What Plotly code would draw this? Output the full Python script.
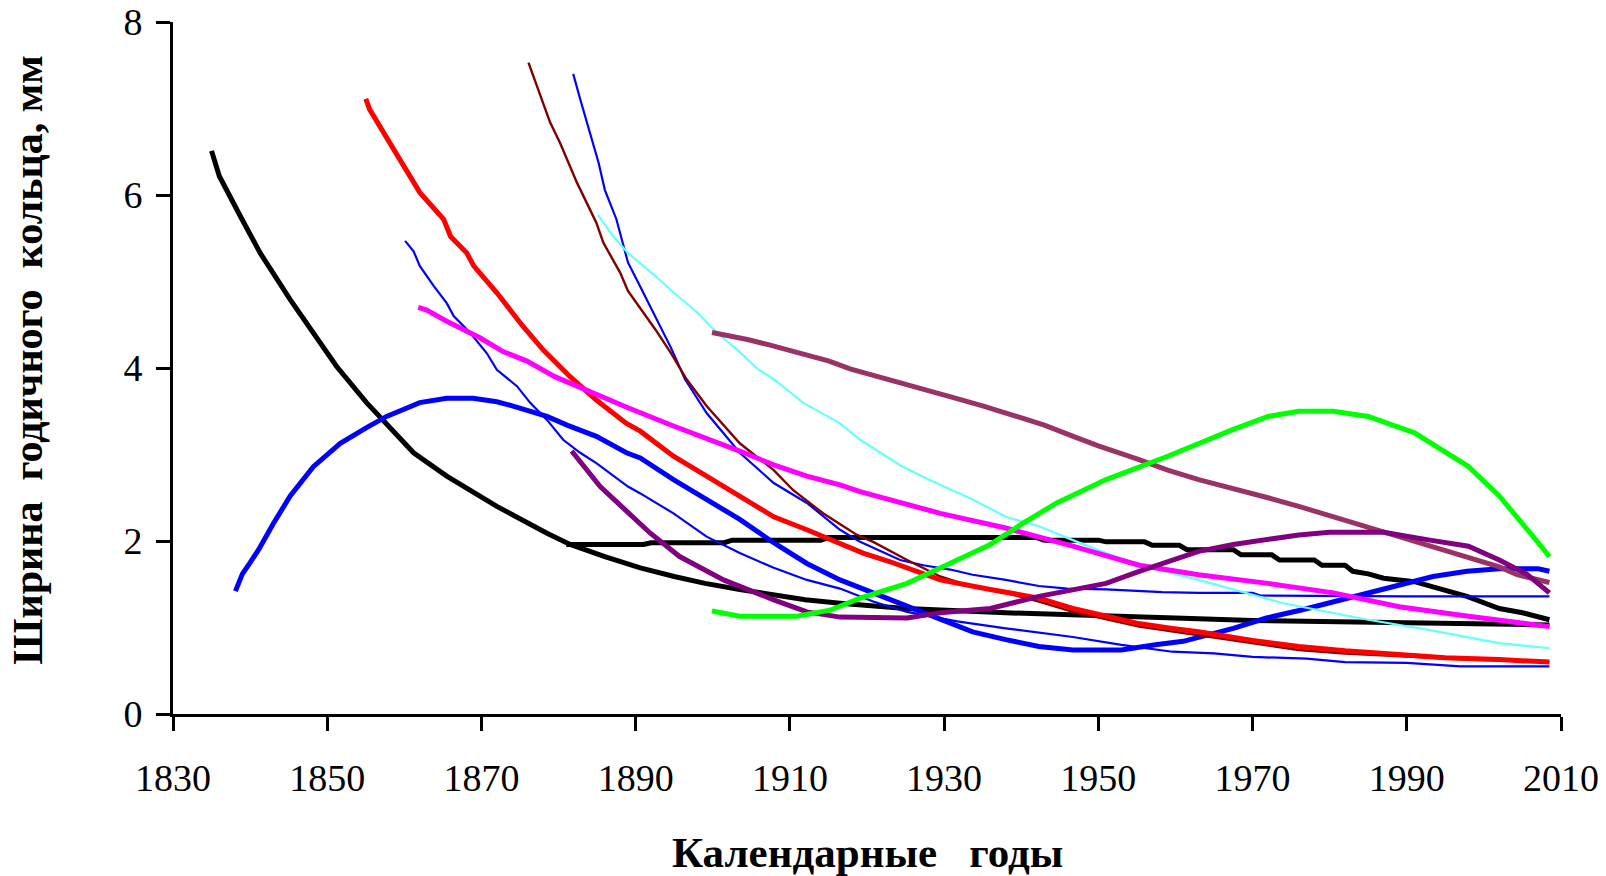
import plotly.graph_objects as go

# Tree-ring width series (mm) by calendar year, one list pair per tree
black_years = [1835, 1836, 1838.7, 1841.3, 1845.2, 1848.2, 1851.2, 1855.1, 1856.8, 1861.2, 1865.5,
               1872, 1878.5, 1881.5, 1886, 1890.6, 1895, 1899, 1903.5, 1908, 1912, 1916.5, 1925,
               1938, 1947, 1955, 1960, 1970, 1980, 1990, 2000, 2008.5]
black_vals = [6.51, 6.22, 5.76, 5.33, 4.79, 4.41, 4.02, 3.6, 3.44, 3.02, 2.75,
              2.4, 2.09, 1.96, 1.82, 1.69, 1.59, 1.51, 1.44, 1.38, 1.32, 1.28, 1.22,
              1.17, 1.15, 1.12, 1.11, 1.08, 1.07, 1.05, 1.04, 1.03]

black2_years = [1881, 1891, 1892, 1901.5, 1902.5, 1914, 1915, 1942, 1943, 1950, 1951, 1956, 1957,
                1960.5, 1961.5, 1967.5, 1968.5, 1972.5, 1973.5, 1978, 1979, 1982, 1983, 1985,
                1987, 1991, 1993.4, 1997.8, 2002, 2005, 2008.5]
black2_vals = [1.96, 1.96, 1.98, 1.98, 2.01, 2.01, 2.04, 2.04, 2.01, 2.01, 1.99, 1.99, 1.95,
               1.95, 1.9, 1.9, 1.84, 1.84, 1.78, 1.78, 1.72, 1.72, 1.65, 1.62,
               1.57, 1.53, 1.47, 1.36, 1.22, 1.17, 1.09]

blue_years = [1838.1, 1839, 1840, 1841.1, 1843, 1845.2, 1848.2, 1851.7, 1855.1, 1857.7, 1862, 1865.5,
              1868.9, 1872, 1874.1, 1878.5, 1881.1, 1884.9, 1888.8, 1890.6, 1894.9, 1899.2, 1903.5,
              1907.9, 1912.2, 1916.5, 1920.8, 1925.2, 1929.5, 1933.7, 1938, 1942.3, 1946.7, 1953,
              1957.4, 1961, 1967.5, 1971.8, 1976.2, 1980.5, 1984.8, 1989.1, 1993.4, 1997.8, 2002,
              2007, 2008.5]
blue_vals = [1.42, 1.62, 1.75, 1.9, 2.2, 2.52, 2.86, 3.13, 3.31, 3.44, 3.6, 3.65,
             3.65, 3.61, 3.56, 3.44, 3.34, 3.21, 3.02, 2.96, 2.71, 2.48, 2.25,
             1.98, 1.74, 1.55, 1.4, 1.24, 1.09, 0.95, 0.86, 0.78, 0.74, 0.74,
             0.8, 0.84, 0.99, 1.11, 1.2, 1.3, 1.4, 1.5, 1.59, 1.65, 1.68,
             1.68, 1.65]

red_years = [1855, 1855.5, 1858.6, 1862, 1865.1, 1866, 1868.1, 1869, 1872, 1875.4, 1878, 1881.5,
             1884.9, 1888.8, 1890.6, 1894.9, 1899.2, 1903.5, 1907.9, 1912.2, 1916.5, 1919.5, 1923,
             1929.5, 1936, 1942.3, 1946.7, 1951, 1955, 1959.6, 1963, 1970, 1976, 1982, 1989, 1995,
             2002, 2008.5]
red_vals = [7.11, 6.99, 6.53, 6.03, 5.72, 5.52, 5.33, 5.18, 4.87, 4.48, 4.21, 3.9,
            3.63, 3.36, 3.27, 2.98, 2.75, 2.52, 2.28, 2.13, 1.98, 1.86, 1.76,
            1.55, 1.44, 1.34, 1.22, 1.13, 1.05, 0.99, 0.95, 0.85, 0.78, 0.73, 0.68, 0.65,
            0.63, 0.6]

darkred_years = [1876.1, 1877.8, 1878.9, 1880.2, 1882.4, 1884.9, 1885.8, 1888, 1889, 1892.6, 1894.6,
                 1896.6, 1899.2, 1903.5, 1907.9, 1910.4, 1914.3, 1918.7, 1920.8, 1925.2, 1929.5,
                 1933.7, 1938, 1942.3, 1946.7, 1955.3, 1963, 1970, 1976, 1982, 1989, 1998, 2008.5]
darkred_vals = [7.53, 7.11, 6.84, 6.6, 6.14, 5.68, 5.45, 5.1, 4.89, 4.44, 4.17,
                3.87, 3.56, 3.13, 2.82, 2.59, 2.32, 2.07, 1.99, 1.78, 1.59,
                1.47, 1.4, 1.3, 1.18, 1.01, 0.91, 0.82, 0.74, 0.7, 0.67, 0.63, 0.6]

blue2_years = [1881.9, 1882.8, 1885.2, 1886, 1887.5, 1889, 1890.6, 1892.6, 1894.6, 1896.4, 1899.2,
               1903.5, 1907.9, 1912.2, 1916.5, 1919.1, 1920.8, 1924.3, 1927.3, 1930.8, 1933.7, 1938,
               1942.3, 1946, 1951, 1958.3, 1963, 1970, 1971, 1990, 2008.5]
blue2_vals = [7.4, 7.11, 6.37, 6.06, 5.72, 5.22, 4.94, 4.59, 4.23, 3.87, 3.48,
              3.02, 2.67, 2.44, 2.13, 1.99, 1.92, 1.78, 1.72, 1.67, 1.61, 1.55,
              1.48, 1.45, 1.44, 1.41, 1.4, 1.4, 1.37, 1.36, 1.36]

blue3_years = [1860.1, 1861.2, 1862, 1863.8, 1865.5, 1866.4, 1868.5, 1870.7, 1872, 1874.6, 1876.3,
               1878.5, 1880.6, 1882.8, 1884.9, 1887.1, 1889, 1890.6, 1894.9, 1899.2, 1903.5, 1907.9,
               1912.2, 1916.5, 1920.8, 1925.2, 1931.7, 1938, 1946.7, 1953, 1959.6, 1965, 1970, 1977,
               1982, 1990, 1997, 2008.5]
blue3_vals = [5.47, 5.35, 5.18, 4.95, 4.75, 4.6, 4.41, 4.17, 3.98, 3.79, 3.6,
              3.4, 3.17, 3.02, 2.9, 2.75, 2.63, 2.55, 2.32, 2.05, 1.86, 1.69,
              1.55, 1.45, 1.3, 1.18, 1.07, 0.99, 0.89, 0.8, 0.72, 0.7, 0.66, 0.64,
              0.6, 0.59, 0.55, 0.55]

magenta_years = [1861.8, 1862.9, 1865.5, 1867.6, 1869.8, 1872.8, 1875.9, 1879.5, 1882.8, 1886.2, 1889,
                 1894.9, 1899.2, 1903.5, 1907.9, 1912.2, 1916.5, 1919.1, 1929.5, 1938, 1946.7, 1955.3,
                 1963, 1972, 1980.5, 1989, 1998, 2008.5]
magenta_vals = [4.7, 4.67, 4.54, 4.44, 4.35, 4.19, 4.08, 3.9, 3.77, 3.65, 3.54,
                3.33, 3.19, 3.04, 2.88, 2.75, 2.65, 2.57, 2.32, 2.15, 1.94, 1.72,
                1.61, 1.51, 1.4, 1.24, 1.13, 1.01]

cyan_years = [1885.1, 1887.1, 1889, 1892.6, 1895.2, 1897.9, 1900.5, 1903.2, 1905.8, 1907.9, 1911.7,
              1916.5, 1919.1, 1921.8, 1924.4, 1928, 1933.7, 1938, 1942.3, 1946.7, 1951, 1955.3,
              1963, 1974, 1985, 1993, 2002, 2008.5]
cyan_vals = [5.77, 5.52, 5.33, 5.06, 4.85, 4.65, 4.41, 4.21, 3.99, 3.87, 3.6,
             3.36, 3.17, 3.02, 2.87, 2.71, 2.48, 2.28, 2.17, 2.01, 1.86, 1.72,
             1.55, 1.28, 1.09, 0.97, 0.82, 0.76]

mauve_years = [1899.9, 1901.9, 1904.5, 1907.2, 1909.8, 1912.5, 1915.1, 1917.8, 1920.5, 1923.1, 1927.1,
               1931.1, 1935.1, 1939.1, 1943, 1947, 1950, 1955, 1959, 1963, 1967, 1972, 1976, 1980.5,
               1985, 1989, 1993, 1998, 2002, 2004.3, 2008.5]
mauve_vals = [4.41, 4.38, 4.33, 4.27, 4.21, 4.15, 4.08, 3.99, 3.92, 3.86, 3.76,
              3.66, 3.56, 3.45, 3.34, 3.2, 3.1, 2.95, 2.82, 2.71, 2.62, 2.5, 2.4, 2.28,
              2.16, 2.05, 1.94, 1.82, 1.7, 1.61, 1.52]

purple_years = [1881.7, 1885.4, 1888.4, 1891.9, 1895.7, 1901.4, 1907.9, 1912.2, 1916.5, 1925.2, 1929.5,
                1936, 1942.3, 1951, 1955.3, 1963, 1967.5, 1976, 1980, 1987, 1993, 1998, 2002, 2005.5,
                2008.5]
purple_vals = [3.04, 2.63, 2.38, 2.09, 1.82, 1.55, 1.32, 1.18, 1.12, 1.11, 1.17,
               1.22, 1.36, 1.51, 1.65, 1.88, 1.96, 2.07, 2.1, 2.1, 2.01, 1.94, 1.78, 1.62,
               1.4]

green_years = [1899.9, 1903.5, 1910.9, 1915.2, 1919.1, 1925.2, 1931.7, 1936, 1940.3, 1944.6, 1951,
               1959, 1967.5, 1972, 1976, 1980.5, 1985, 1991, 1998, 2002, 2006.4, 2008.5]
green_vals = [1.19, 1.13, 1.13, 1.2, 1.34, 1.51, 1.78, 1.96, 2.21, 2.44, 2.71,
              2.98, 3.29, 3.44, 3.5, 3.5, 3.44, 3.25, 2.86, 2.52, 2.05, 1.82]

x_ticks = [1830, 1850, 1870, 1890, 1910, 1930, 1950, 1970, 1990, 2010]
y_ticks = [0, 2, 4, 6, 8]

series = [
    (black_years, black_vals, "#000000", 5),
    (black2_years, black2_vals, "#000000", 5),
    (blue_years, blue_vals, "#0000FF", 5),
    (blue3_years, blue3_vals, "#0000FF", 2.2),
    (blue2_years, blue2_vals, "#0000FF", 2.2),
    (darkred_years, darkred_vals, "#800000", 2.4),
    (red_years, red_vals, "#FF0000", 5),
    (cyan_years, cyan_vals, "#66FFFF", 2.2),
    (magenta_years, magenta_vals, "#FF00FF", 5),
    (mauve_years, mauve_vals, "#993366", 5),
    (purple_years, purple_vals, "#800080", 5),
    (green_years, green_vals, "#00FF00", 5),
]

fig = go.Figure()
for xs, ys, color, width in series:
    fig.add_trace(go.Scatter(x=xs, y=ys, mode="lines",
                             line=dict(color=color, width=width),
                             showlegend=False, hoverinfo="x+y"))

serif = "Liberation Serif, Times New Roman, serif"

fig.update_layout(
    width=1606, height=876,
    margin=dict(l=173, r=45, t=22, b=162),
    paper_bgcolor="white", plot_bgcolor="white",
    font=dict(family=serif, color="black", size=38),
    xaxis=dict(range=[1830, 2010], tickvals=x_ticks, ticktext=[str(v) for v in x_ticks],
               showgrid=False, zeroline=False, showline=True, linecolor="black", linewidth=3,
               ticks="outside", ticklen=14, tickwidth=2.5, tickcolor="black", automargin=False,
               ticklabelstandoff=14, tickfont=dict(size=38, family=serif)),
    yaxis=dict(range=[0, 8], tickvals=y_ticks, ticktext=[str(v) for v in y_ticks],
               showgrid=False, zeroline=False, showline=True, linecolor="black", linewidth=3,
               ticks="outside", ticklen=14, tickwidth=2.5, tickcolor="black", automargin=False,
               ticklabelstandoff=6, tickfont=dict(size=38, family=serif)),
    annotations=[
        dict(text="<b>Календарные\u00a0\u00a0\u00a0годы</b>", xref="paper", yref="paper",
             x=0.5, y=-0.2, xanchor="center", yanchor="middle", showarrow=False,
             font=dict(size=43, family=serif)),
        dict(text="<b>Ширина\u00a0\u00a0годичного\u00a0\u00a0кольца, мм</b>", xref="paper", yref="paper",
             x=-0.1045, y=0.512, xanchor="center", yanchor="middle", showarrow=False,
             textangle=-90, font=dict(size=42, family=serif)),
    ],
)

fig.write_html("out.html")
